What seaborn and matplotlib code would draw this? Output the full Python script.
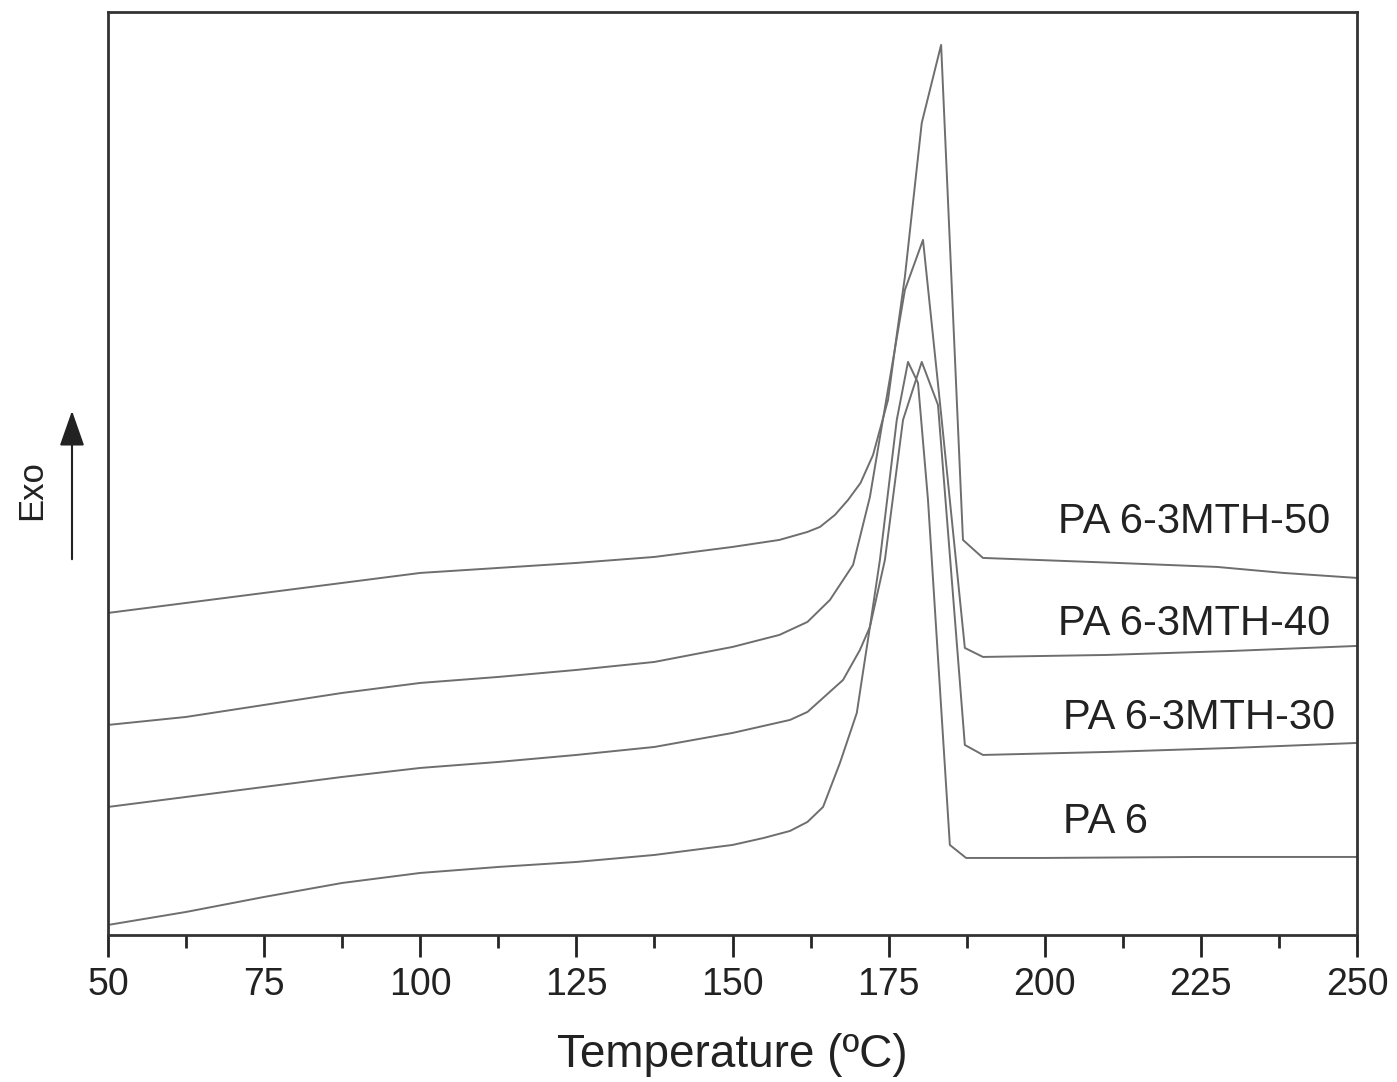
import numpy as np
import pandas as pd
import seaborn as sns
import matplotlib.pyplot as plt

sns.set_style("ticks")
plt.rcParams['font.family'] = ['Liberation Sans', 'DejaVu Sans']

# DSC cooling curves, heat flow in arbitrary units (exo up)
t_pa6 = [50, 62.5, 75, 87.5, 100, 112.5, 125, 137.5, 150, 155, 159.2, 162, 164.5,
         167.2, 169.9, 170.7, 172.0, 173.6, 176.3, 178.1, 179.7, 181.3, 184.8,
         187.4, 200, 225, 250]
hf_pa6 = [0.10, 0.23, 0.38, 0.52, 0.62, 0.68, 0.73, 0.80, 0.90, 0.97, 1.04, 1.13, 1.28,
          1.72, 2.22, 2.55, 3.08, 3.75, 5.15, 5.73, 5.52, 4.35, 0.90,
          0.77, 0.77, 0.78, 0.78]

t_30 = [50, 62.5, 75, 87.5, 100, 112.5, 125, 137.5, 150, 159.2, 162, 167.7,
        170.4, 172.0, 174.4, 177.3, 180.3, 182.9, 187.2, 190.1, 210, 230, 250]
hf_30 = [1.28, 1.38, 1.48, 1.58, 1.67, 1.73, 1.80, 1.88, 2.02, 2.15, 2.23, 2.55,
         2.85, 3.08, 3.75, 5.15, 5.73, 5.30, 1.90, 1.80, 1.83, 1.87, 1.92]

t_40 = [50, 62.5, 75, 87.5, 100, 112.5, 125, 137.5, 150, 157.5, 162, 165.6,
        169.3, 172.0, 173.8, 175.7, 177.6, 180.5, 183.2, 187.2, 190.1, 210, 230, 250]
hf_40 = [2.10, 2.18, 2.30, 2.42, 2.52, 2.58, 2.65, 2.73, 2.88, 3.00, 3.13, 3.35,
         3.70, 4.38, 5.05, 5.75, 6.45, 6.95, 5.33, 2.87, 2.78, 2.80, 2.84, 2.89]

t_50 = [50, 62.5, 75, 87.5, 100, 112.5, 125, 137.5, 150, 157.5, 162, 164, 166.4,
        168.5, 170.5, 172.5, 174.9, 176.3, 177.6, 180.3, 183.4, 186.9, 190.1,
        211.6, 227.6, 238.2, 250]
hf_50 = [3.22, 3.32, 3.42, 3.52, 3.62, 3.67, 3.72, 3.78, 3.88, 3.95, 4.03, 4.08, 4.20,
         4.35, 4.52, 4.80, 5.35, 6.00, 6.58, 8.12, 8.90, 3.95, 3.77,
         3.72, 3.68, 3.62, 3.57]

samples = ["PA 6", "PA 6-3MTH-30", "PA 6-3MTH-40", "PA 6-3MTH-50"]
temps = [t_pa6, t_30, t_40, t_50]
flows = [hf_pa6, hf_30, hf_40, hf_50]

frames = []
for name, t, hf in zip(samples, temps, flows):
    frames.append(pd.DataFrame({"T": t, "hf": hf, "sample": name}))
df = pd.concat(frames, ignore_index=True)

fig = plt.figure(figsize=(13.97, 10.82), dpi=100)
ax = fig.add_axes([0.0773, 0.1359, 0.8941, 0.8531])

sns.lineplot(data=df, x="T", y="hf", units="sample", estimator=None, sort=False,
             color="#6e6e6e", linewidth=1.4, ax=ax)

ax.set_xlim(50, 250)
ax.set_ylim(0, 9.23)
ax.set_xticks(np.arange(50, 251, 25))
ax.set_xticks(np.arange(50, 251, 12.5), minor=True)
ax.set_yticks([])
ax.tick_params(axis="x", which="major", direction="out", length=16, width=2,
               labelsize=27, pad=7, colors="#222222")
ax.tick_params(axis="x", which="minor", direction="out", length=9, width=2)
ax.tick_params(top=False, left=False, right=False)
for s in ax.spines.values():
    s.set_linewidth(2)
    s.set_color("#333333")

ax.set_xlabel("Temperature (ºC)", fontsize=33, labelpad=22, color="#222222")
ax.set_ylabel("")

# curve labels
ax.text(202.1, 4.13, "PA 6-3MTH-50", fontsize=30, va="center", color="#222222")
ax.text(202.1, 3.11, "PA 6-3MTH-40", fontsize=30, va="center", color="#222222")
ax.text(202.9, 2.17, "PA 6-3MTH-30", fontsize=30, va="center", color="#222222")
ax.text(202.9, 1.13, "PA 6", fontsize=30, va="center", color="#222222")

# exo arrow
fig.patches.append(plt.matplotlib.patches.FancyArrowPatch(
    (72 / 1397, 1 - 562 / 1082), (72 / 1397, 1 - 408 / 1082),
    transform=fig.transFigure, arrowstyle="-|>,head_length=1.0,head_width=0.35",
    mutation_scale=22, color="#222222", linewidth=1.5))
fig.text(32 / 1397, 1 - 490 / 1082, "Exo", rotation=90, fontsize=25,
         va="center", ha="center", color="#222222")

fig.savefig("out.png", dpi=100)
